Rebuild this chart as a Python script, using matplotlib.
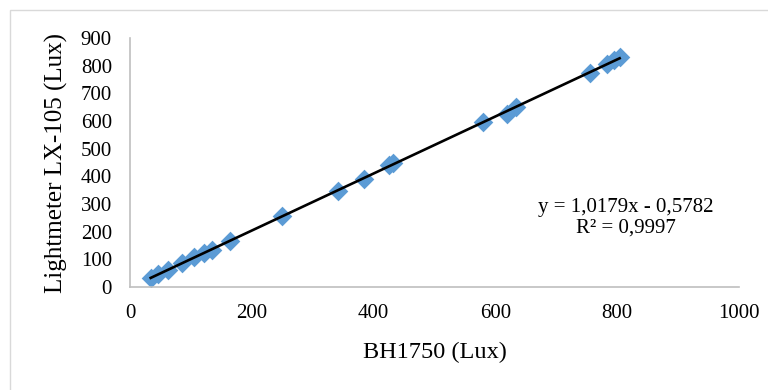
import numpy as np
import matplotlib
matplotlib.use("Agg")
import matplotlib.pyplot as plt
from matplotlib.patches import Rectangle

# readings: BH1750 sensor vs LX-105 lightmeter (Lux)
bh1750 = [34, 46, 63, 85, 105, 122, 135, 165, 250, 342, 385, 426, 432,
          580, 619, 634, 755, 783, 794, 804]
lx105 = [33, 48, 62, 88, 107, 122, 135, 167, 256, 348, 392, 440, 450,
         595, 625, 650, 775, 805, 820, 832]
x_ticks = [0, 200, 400, 600, 800, 1000]
y_ticks = [0, 100, 200, 300, 400, 500, 600, 700, 800, 900]
eq_text = "y = 1,0179x - 0,5782\nR² = 0,9997"

plt.rcParams["font.family"] = ["Liberation Serif", "DejaVu Serif"]

fig = plt.figure(figsize=(7.68, 3.9), dpi=100)
# light frame around the chart area (cut off at right/bottom)
fig.patches.append(Rectangle((10 / 768, -0.1), 1.2, 1.1 - 10 / 390,
                             transform=fig.transFigure, fill=False,
                             edgecolor="#D9D9D9", linewidth=1))
ax = fig.add_axes([130 / 768, 1 - 287 / 390, (739 - 130) / 768, (287 - 38) / 390])

ax.scatter(bh1750, lx105, marker="D", s=100, color="#5B9BD5", linewidths=0, zorder=2)

coef = np.polyfit(bh1750, lx105, 1)
xs = np.array([min(bh1750), max(bh1750)])
ax.plot(xs, np.polyval(coef, xs), color="black", linewidth=1.9, zorder=3)

ax.set_xlim(0, 1000)
ax.set_ylim(0, 900)
ax.set_xticks(x_ticks)
ax.set_yticks(y_ticks)
ax.tick_params(length=0, labelsize=15)
ax.tick_params(axis="x", pad=12)
ax.tick_params(axis="y", pad=13)

for s in ["top", "right"]:
    ax.spines[s].set_visible(False)
for s in ["left", "bottom"]:
    ax.spines[s].set_color("#BFBFBF")
    ax.spines[s].set_linewidth(1.2)

ax.set_xlabel("BH1750 (Lux)", fontsize=17.5)
ax.set_ylabel("Lightmeter LX-105 (Lux)", fontsize=18)
ax.xaxis.set_label_coords(0.5, -(352 - 287) / 249, transform=ax.transAxes)
ax.yaxis.set_label_coords(-(130 - 56) / 609, (287 - 163) / 249, transform=ax.transAxes)
for lab in (ax.xaxis.label, ax.yaxis.label):
    lab.set_verticalalignment("center")

fig.text(626 / 768, 1 - 218 / 390, eq_text, fontsize=15, ha="center", va="center",
         linespacing=1.1)

fig.savefig("out.png", dpi=100)
